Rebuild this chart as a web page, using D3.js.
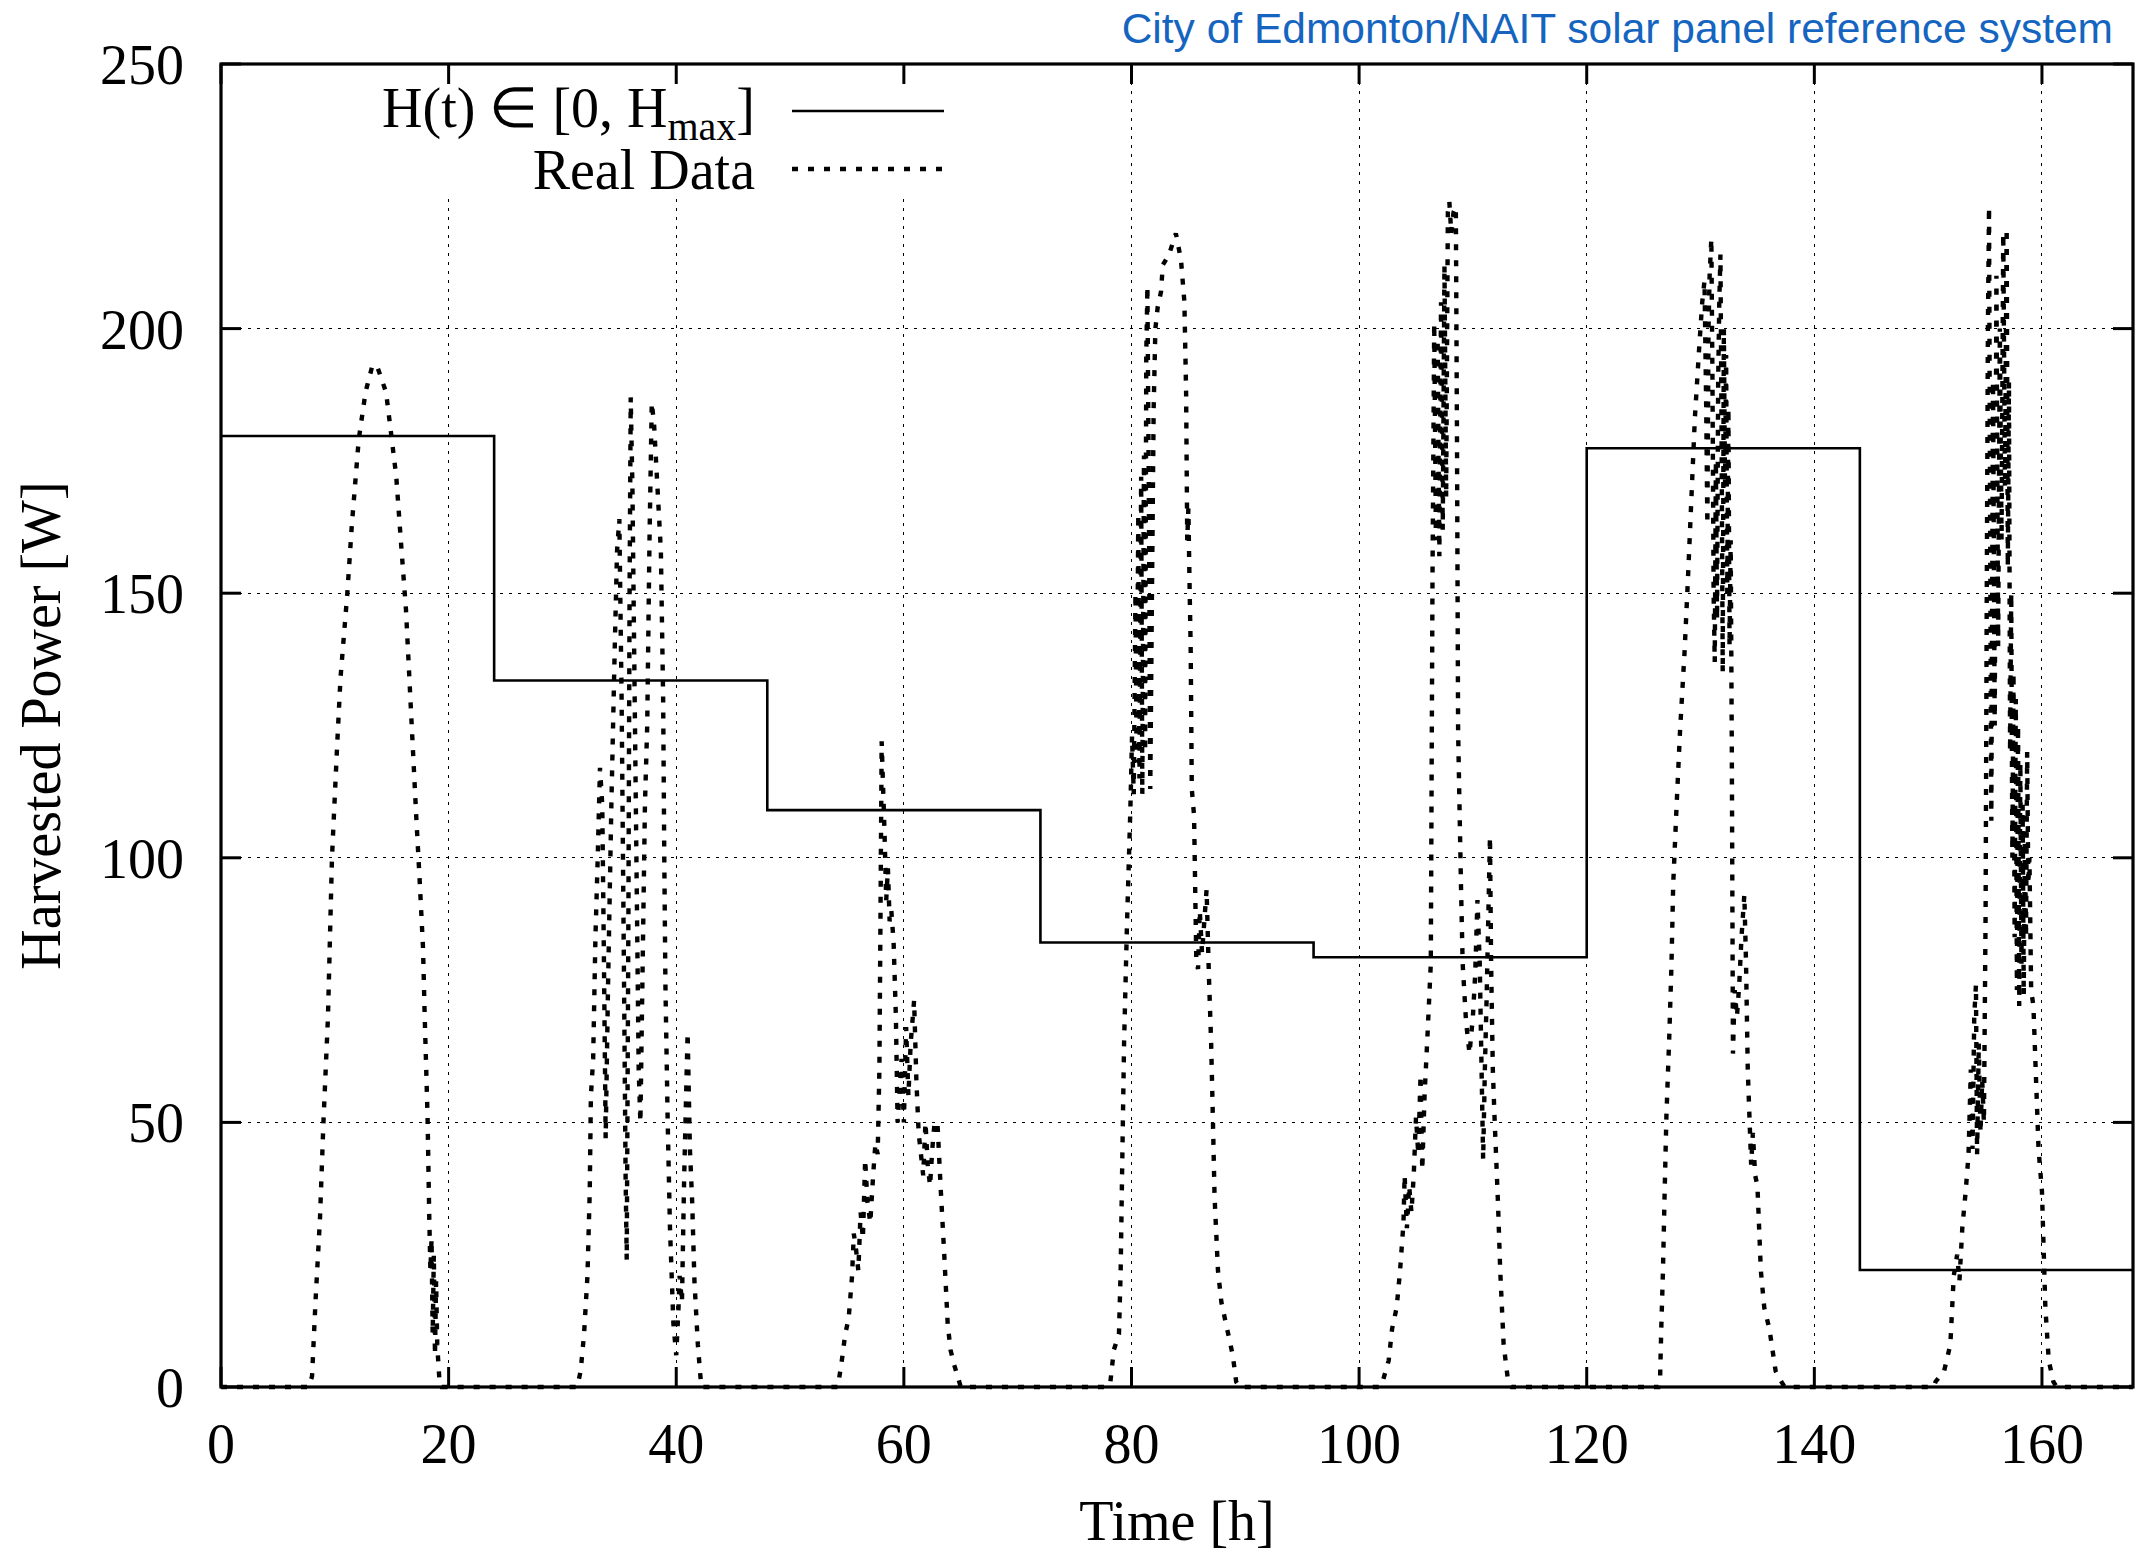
<!DOCTYPE html>
<html><head><meta charset="utf-8">
<script src="https://cdn.jsdelivr.net/npm/d3@7"></script>
<style>body{margin:0;background:#fff}svg{display:block}</style>
</head><body>
<svg id="chart" width="2140" height="1556"></svg>
<script>
// ---------- DATA ----------
const xTicks = [0, 20, 40, 60, 80, 100, 120, 140, 160];
const yTicks = [0, 50, 100, 150, 200, 250];
const titleText = "City of Edmonton/NAIT solar panel reference system";
const xLabel = "Time [h]";
const yLabel = "Harvested Power [W]";
const legendLabels = ["H(t) \u2208 [0, H", "Real Data"];

// H(t) step function: start hour of each day and its value
const stepStarts = [0, 24, 48, 72, 96, 120, 144, 168];
const stepValues = [179.7, 133.5, 109.0, 84.0, 81.2, 177.4, 22.1, 22.1];

// Real data, [hour, watts], read per day
const day1 = [[0,0],[7.7,0],[8.0,2],[8.3,16],[8.7,32],[9.0,50],[9.4,70],[9.75,100],[10.2,121],[10.5,134],[11.1,150],[11.5,163],[12.1,179],[12.7,188],[13.3,193],[13.7,193],[14.5,188],[14.9,181],[15.4,172],[15.8,160],[16.25,147],[16.55,134],[16.85,121],[17.15,108],[17.45,96],[17.75,83],[17.9,70],[18.15,51],[18.3,32],[18.4,22],[18.5,28],[18.6,10],[18.7,25],[18.8,6],[18.9,20],[19.0,8],[19.2,1],[19.4,0]];
const day2 = [[24,0],[31.3,0],[31.6,3],[31.9,10],[32.2,21],[32.4,37],[32.5,55],[32.7,62],[32.9,85],[33.1,100],[33.3,117],[33.5,110],[33.65,80],[33.8,47],[34.0,75],[34.3,110],[34.6,140],[34.8,158],[35.0,164],[35.2,130],[35.4,80],[35.55,40],[35.65,24],[35.8,90],[35.9,150],[36.0,187],[36.15,170],[36.35,130],[36.55,90],[36.7,60],[36.85,50],[37.05,80],[37.25,110],[37.45,125],[37.65,160],[37.85,186],[38.05,182],[38.35,170],[38.65,158],[38.85,130],[38.95,100],[39.05,76],[39.25,50],[39.45,30],[39.75,12],[40.0,6],[40.2,15],[40.3,21],[40.5,16],[40.7,40],[41.0,67],[41.2,45],[41.4,35],[41.6,20],[41.9,8],[42.2,0]];
const day3 = [[48,0],[54.2,0],[54.55,5],[54.85,10],[55.15,13],[55.45,21],[55.6,29],[55.8,26],[56.0,22],[56.2,33],[56.4,28],[56.6,43],[56.8,35],[57.05,31],[57.3,40],[57.5,46],[57.7,44],[57.85,60],[57.95,90],[58.05,122],[58.15,115],[58.3,105],[58.45,92],[58.6,98],[58.75,88],[58.9,90],[59.1,84],[59.3,70],[59.45,50],[59.6,55],[59.8,62],[60.0,50],[60.2,68],[60.4,55],[60.6,65],[60.9,73],[61.1,58],[61.3,48],[61.5,44],[61.7,40],[61.9,50],[62.1,42],[62.3,38],[62.5,45],[62.7,50],[62.95,50],[63.25,37],[63.55,25],[63.85,12],[64.1,7],[64.45,4],[65.0,0]];
const day4 = [[72,0],[77.9,0],[78.15,1],[78.45,7],[78.9,10],[79.05,22],[79.2,44],[79.35,65],[79.6,87],[79.9,109],[80.05,123],[80.2,112],[80.35,150],[80.45,118],[80.6,165],[80.7,115],[80.85,172],[80.95,112],[81.1,176],[81.2,120],[81.3,195],[81.4,208],[81.55,160],[81.65,113],[81.8,150],[81.95,185],[82.1,200],[82.3,204],[82.6,207],[82.75,212],[83.3,214],[83.9,218],[84.35,213],[84.65,205],[84.8,188],[84.9,160],[85.0,166],[85.1,152],[85.2,140],[85.3,113],[85.5,108],[85.7,80],[85.85,79],[86.0,90],[86.2,82],[86.4,88],[86.6,94],[86.8,78],[87.0,65],[87.15,51],[87.3,36],[87.6,22],[87.9,16],[88.5,10],[88.9,6],[89.2,1],[89.5,0]];
const day5 = [[96,0],[101.8,0],[102.0,0.5],[102.6,5],[102.9,11],[103.3,15],[103.6,22],[103.9,31],[104.0,40],[104.2,30],[104.4,38],[104.6,33],[104.8,40],[105.0,51],[105.2,44],[105.4,59],[105.55,41],[105.75,55],[106.0,66],[106.3,80],[106.45,153],[106.6,201],[106.75,160],[106.9,198],[107.05,157],[107.2,205],[107.35,162],[107.5,212],[107.65,168],[107.8,222],[107.93,224],[108.1,218],[108.3,222],[108.5,223],[108.6,180],[108.7,124],[108.95,95],[109.1,80],[109.4,69],[109.7,63],[110.0,70],[110.2,78],[110.4,92],[110.6,80],[110.9,43],[111.05,60],[111.2,73],[111.5,104],[111.6,80],[111.75,60],[111.9,51],[112.2,35],[112.4,22],[112.7,8],[113.1,1],[113.4,0]];
const day6 = [[120,0],[126.3,0],[126.45,2],[126.55,11],[126.7,22],[126.85,37],[127.0,51],[127.25,66],[127.45,80],[127.6,95],[127.9,110],[128.2,124],[128.6,139],[128.9,153],[129.2,168],[129.5,183],[129.9,197],[130.15,205],[130.35,209],[130.5,185],[130.6,163],[130.7,200],[130.8,210],[130.95,217],[131.05,190],[131.15,150],[131.25,137],[131.35,175],[131.45,145],[131.55,190],[131.65,205],[131.75,214],[131.85,180],[131.95,135],[132.05,200],[132.15,170],[132.25,195],[132.35,150],[132.45,185],[132.55,140],[132.65,160],[132.75,120],[132.85,63],[133.0,75],[133.2,70],[133.4,76],[133.6,85],[133.85,93],[134.0,80],[134.15,60],[134.3,51],[134.45,42],[134.6,48],[134.8,40],[135.0,38],[135.3,22],[135.6,15],[136.05,11],[136.6,3],[137.1,1],[137.4,0]];
const day7 = [[144,0],[150.5,0],[150.65,1],[151.4,3],[151.95,8],[152.25,21],[152.55,25],[152.75,20],[153.0,30],[153.3,37],[153.55,44],[153.75,60],[153.9,45],[154.05,70],[154.2,76],[154.3,44],[154.45,65],[154.6,48],[154.75,58],[154.9,50],[155.05,90],[155.15,150],[155.25,200],[155.35,223],[155.45,160],[155.55,107],[155.7,190],[155.85,125],[156.0,210],[156.15,140],[156.3,200],[156.45,160],[156.6,218],[156.75,170],[156.9,219],[157.0,155],[157.1,190],[157.2,120],[157.3,150],[157.4,100],[157.5,135],[157.6,85],[157.7,130],[157.8,75],[157.9,125],[158.0,72],[158.1,118],[158.2,80],[158.3,110],[158.4,74],[158.5,105],[158.6,85],[158.7,120],[158.8,95],[158.9,100],[159.05,75],[159.25,72],[159.45,60],[159.7,45],[160.0,37],[160.3,15],[160.6,5],[161.0,1],[161.3,0],[168,0]];

// ---------- CHART ----------
const L = 221, T = 64, R = 2133, B = 1387;
const svg = d3.select("#chart");
const x = d3.scaleLinear().domain([0, 168]).range([L, R]);
const y = d3.scaleLinear().domain([0, 250]).range([B, T]);
const serif = "'Liberation Serif','Times New Roman',Times,serif";
const FS = 56;
const DOT = {w: 4.4, dash: "6,10"};

// grid
const grid = svg.append("g").attr("stroke", "#000").attr("stroke-width", 1)
  .attr("stroke-dasharray", "3,6").attr("shape-rendering", "crispEdges");
yTicks.filter(v => v > 0 && v < 250).forEach(v => {
  grid.append("line").attr("x1", L).attr("x2", R).attr("y1", y(v)).attr("y2", y(v));
});
xTicks.filter(v => v > 0).forEach(v => {
  grid.append("line").attr("x1", x(v)).attr("x2", x(v)).attr("y1", T).attr("y2", B);
});

// legend background (key box masks grid)
svg.append("rect").attr("x", 360).attr("y", T + 2).attr("width", 610).attr("height", 132).attr("fill", "#fff");

// step function H(t)
const stepPts = stepStarts.map((s, i) => [s, stepValues[i]]);
svg.append("path").datum(stepPts)
  .attr("d", d3.line().x(d => x(d[0])).y(d => y(d[1])).curve(d3.curveStepAfter))
  .attr("fill", "none").attr("stroke", "#000").attr("stroke-width", 2.6);

// real data
const realData = [].concat(day1, day2, day3, day4, day5, day6, day7);
svg.append("path").datum(realData)
  .attr("d", d3.line().x(d => x(d[0])).y(d => y(d[1])))
  .attr("fill", "none").attr("stroke", "#000").attr("stroke-width", DOT.w)
  .attr("stroke-dasharray", DOT.dash);

// axes ticks (inward, all four sides)
const tk = svg.append("g").attr("stroke", "#000").attr("stroke-width", 3);
xTicks.forEach(v => {
  tk.append("line").attr("x1", x(v)).attr("x2", x(v)).attr("y1", B).attr("y2", B - 20);
  tk.append("line").attr("x1", x(v)).attr("x2", x(v)).attr("y1", T).attr("y2", T + 20);
});
yTicks.forEach(v => {
  tk.append("line").attr("x1", L).attr("x2", L + 20).attr("y1", y(v)).attr("y2", y(v));
  tk.append("line").attr("x1", R).attr("x2", R - 20).attr("y1", y(v)).attr("y2", y(v));
});
svg.append("rect").attr("x", L).attr("y", T).attr("width", R - L).attr("height", B - T)
  .attr("fill", "none").attr("stroke", "#000").attr("stroke-width", 3.2);

// tick labels
svg.append("g").selectAll("text").data(xTicks).join("text")
  .attr("x", d => x(d)).attr("y", 1463).attr("text-anchor", "middle")
  .attr("font-family", serif).attr("font-size", FS).text(d => d);
svg.append("g").selectAll("text").data(yTicks).join("text")
  .attr("x", 184).attr("y", d => y(d) + 20).attr("text-anchor", "end")
  .attr("font-family", serif).attr("font-size", FS).text(d => d);

// axis labels
svg.append("text").attr("x", (L + R) / 2).attr("y", 1540).attr("text-anchor", "middle")
  .attr("font-family", serif).attr("font-size", FS).text(xLabel);
svg.append("text").attr("transform", `translate(60,${(T + B) / 2}) rotate(-90)`)
  .attr("text-anchor", "middle").attr("font-family", serif).attr("font-size", FS).text(yLabel);

// title
svg.append("text").attr("x", 2113).attr("y", 43).attr("text-anchor", "end")
  .attr("font-family", "'Liberation Sans',Arial,Helvetica,sans-serif").attr("font-size", 42.5)
  .attr("fill", "#1565c0").text(titleText);

// legend
const lt = svg.append("text").attr("x", 755).attr("y", 127).attr("text-anchor", "end")
  .attr("font-family", serif).attr("font-size", FS);
lt.append("tspan").text(legendLabels[0]);
lt.append("tspan").attr("dy", 13).attr("font-size", 40).text("max");
lt.append("tspan").attr("dy", -13).text("]");
svg.append("text").attr("x", 755).attr("y", 189).attr("text-anchor", "end")
  .attr("font-family", serif).attr("font-size", FS).text(legendLabels[1]);
svg.append("line").attr("x1", 792).attr("x2", 944).attr("y1", 111).attr("y2", 111)
  .attr("stroke", "#000").attr("stroke-width", 2.6);
svg.append("line").attr("x1", 792).attr("x2", 944).attr("y1", 169).attr("y2", 169)
  .attr("stroke", "#000").attr("stroke-width", DOT.w).attr("stroke-dasharray", DOT.dash);
</script>
</body></html>
